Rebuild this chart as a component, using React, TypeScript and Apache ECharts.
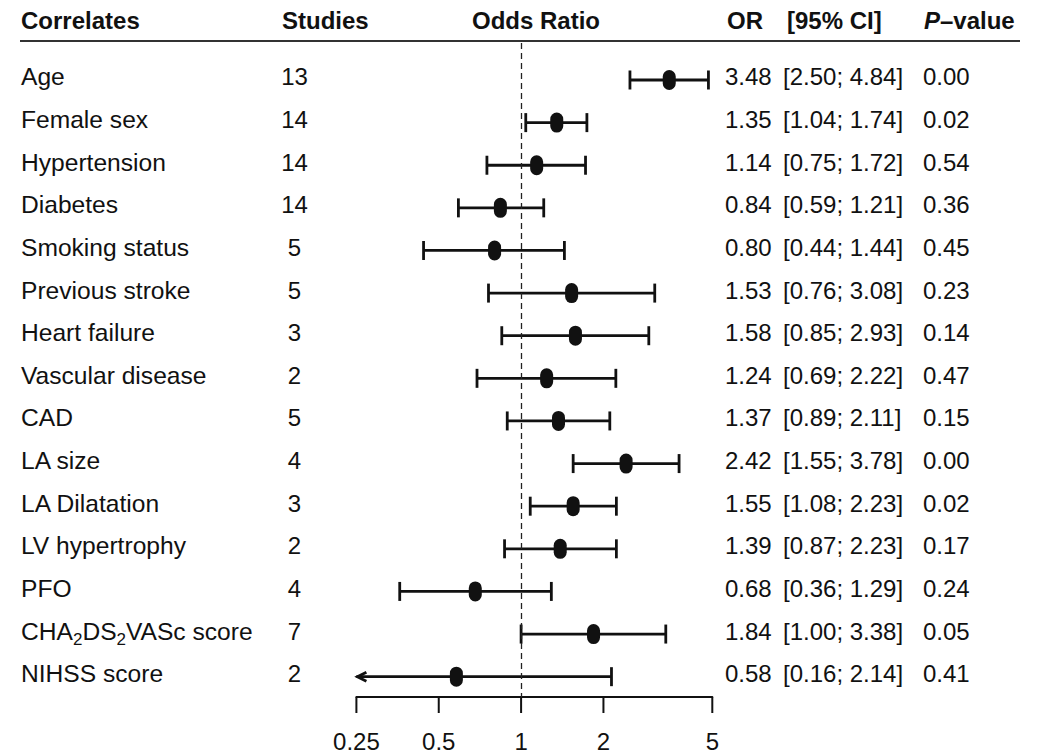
import React, { useEffect, useRef } from 'react';
import * as echarts from 'echarts';

// ---------- data ----------
const correlates = [
  'Age', 'Female sex', 'Hypertension', 'Diabetes', 'Smoking status', 'Previous stroke',
  'Heart failure', 'Vascular disease', 'CAD', 'LA size', 'LA Dilatation', 'LV hypertrophy',
  'PFO', 'CHA2DS2VASc score', 'NIHSS score',
];
const studies = [13, 14, 14, 14, 5, 5, 3, 2, 5, 4, 3, 2, 4, 7, 2];
const oddsRatio = [3.48, 1.35, 1.14, 0.84, 0.8, 1.53, 1.58, 1.24, 1.37, 2.42, 1.55, 1.39, 0.68, 1.84, 0.58];
const ciLower = [2.5, 1.04, 0.75, 0.59, 0.44, 0.76, 0.85, 0.69, 0.89, 1.55, 1.08, 0.87, 0.36, 1.0, 0.16];
const ciUpper = [4.84, 1.74, 1.72, 1.21, 1.44, 3.08, 2.93, 2.22, 2.11, 3.78, 2.23, 2.23, 1.29, 3.38, 2.14];
const pValues = [0.0, 0.02, 0.54, 0.36, 0.45, 0.23, 0.14, 0.47, 0.15, 0.0, 0.02, 0.17, 0.24, 0.05, 0.41];
const tickValues = [0.25, 0.5, 1, 2, 5];
const tickLabels = ['0.25', '0.5', '1', '2', '5'];
const referenceValue = 1;

// ---------- styling ----------
const INK = '#111111';
const FONT = "'Liberation Sans', Arial, Helvetica, sans-serif";
const FS = 24;
const X_MIN = tickValues[0];
const X_MAX = tickValues[tickValues.length - 1];
const Y_MIN = -0.868;
const Y_MAX = 14.477;

const subRich = {
  s: { fontSize: 17, fontFamily: FONT, fill: INK, padding: [17, 0, 0, 0] },
};
const withSubscripts = (name: string) => name.replace(/(CHA|DS)2/g, '$1{s|2}');

function textEl(x: number, y: number, text: string, align: string, extra: any = {}) {
  return {
    type: 'text',
    x,
    y,
    style: {
      text,
      fill: INK,
      fontSize: FS,
      fontFamily: FONT,
      align,
      verticalAlign: 'middle',
      ...extra,
    },
  };
}

export default function App() {
  const ref = useRef<HTMLDivElement>(null);

  useEffect(() => {
    if (!ref.current) return;
    const chart = echarts.init(ref.current, undefined, { renderer: 'svg' });

    const ciData = oddsRatio.map((v, i) => [v, i, ciLower[i], ciUpper[i]]);
    const textData = correlates.map((_, i) => [referenceValue, i]);
    const tickData = tickValues.map((v) => [v, Y_MAX]);

    const option: any = {
      animation: false,
      grid: { left: 356.4, right: 1045 - 712.3, top: 43, bottom: 56 },
      xAxis: {
        type: 'log',
        logBase: 2,
        min: X_MIN,
        max: X_MAX,
        axisLine: { show: true, onZero: false, lineStyle: { color: INK, width: 2 } },
        axisTick: { show: false },
        axisLabel: { show: false },
        splitLine: { show: false },
      },
      yAxis: {
        type: 'value',
        inverse: true,
        min: Y_MIN,
        max: Y_MAX,
        show: false,
        splitLine: { show: false },
      },
      graphic: [
        textEl(21, 20, 'Correlates', 'left', { fontWeight: 'bold' }),
        textEl(282, 20, 'Studies', 'left', { fontWeight: 'bold' }),
        textEl(536, 20, 'Odds Ratio', 'center', { fontWeight: 'bold' }),
        textEl(727, 20, 'OR', 'left', { fontWeight: 'bold' }),
        textEl(787, 20, '[95% CI]', 'left', { fontWeight: 'bold' }),
        textEl(924, 20, '{i|P}–value', 'left', {
          fontWeight: 'bold',
          rich: { i: { fontStyle: 'italic', fontWeight: 'bold', fontSize: FS, fontFamily: FONT, fill: INK } },
        }),
        {
          type: 'line',
          shape: { x1: 20, y1: 41, x2: 1020, y2: 41 },
          style: { stroke: '#333333', lineWidth: 2 },
        },
      ],
      series: [
        {
          type: 'custom',
          name: 'ci',
          clip: false,
          encode: { x: 0, y: 1 },
          data: ciData,
          renderItem: (params: any, api: any) => {
            const or = api.value(0);
            const row = api.value(1);
            const lo = api.value(2);
            const hi = api.value(3);
            const [cx, cy] = api.coord([or, row]);
            const xl = api.coord([Math.max(lo, X_MIN), row])[0];
            const xh = api.coord([Math.min(hi, X_MAX), row])[0];
            const lw = 2.8;
            const children: any[] = [
              { type: 'line', shape: { x1: xl, y1: cy, x2: xh, y2: cy }, style: { stroke: INK, lineWidth: lw } },
            ];
            if (lo >= X_MIN) {
              children.push({ type: 'line', shape: { x1: xl, y1: cy - 9.5, x2: xl, y2: cy + 9.5 }, style: { stroke: INK, lineWidth: lw } });
            } else {
              children.push({
                type: 'polyline',
                shape: { points: [[xl + 10, cy - 4.5], [xl + 1, cy], [xl + 10, cy + 4.5]] },
                style: { stroke: INK, fill: 'none', lineWidth: 2.8 },
              });
            }
            if (hi <= X_MAX) {
              children.push({ type: 'line', shape: { x1: xh, y1: cy - 9.5, x2: xh, y2: cy + 9.5 }, style: { stroke: INK, lineWidth: lw } });
            }
            children.push({
              type: 'rect',
              shape: { x: cx - 6.5, y: cy - 10, width: 13, height: 20, r: 6.5 },
              style: { fill: INK },
            });
            return { type: 'group', children };
          },
          markLine: {
            silent: true,
            symbol: 'none',
            label: { show: false },
            lineStyle: { color: '#222222', width: 1.3, type: [6, 4] },
            data: [{ xAxis: referenceValue }],
          },
          z: 3,
        },
        {
          type: 'custom',
          name: 'table',
          clip: false,
          encode: { x: 0, y: 1 },
          data: textData,
          renderItem: (params: any, api: any) => {
            const i = params.dataIndex;
            const y = api.coord([api.value(0), api.value(1)])[1] - 3;
            return {
              type: 'group',
              children: [
                textEl(21, y, withSubscripts(correlates[i]), 'left', { rich: subRich, fontSize: 24.6 }),
                textEl(294.5, y, String(studies[i]), 'center'),
                textEl(725, y, oddsRatio[i].toFixed(2), 'left'),
                textEl(783, y, `[${ciLower[i].toFixed(2)}; ${ciUpper[i].toFixed(2)}]`, 'left'),
                textEl(923, y, pValues[i].toFixed(2), 'left'),
              ],
            };
          },
        },
        {
          type: 'custom',
          name: 'ticks',
          clip: false,
          encode: { x: 0, y: 1 },
          data: tickData,
          renderItem: (params: any, api: any) => {
            const [x, y] = api.coord([api.value(0), api.value(1)]);
            return {
              type: 'group',
              children: [
                { type: 'line', shape: { x1: x, y1: y, x2: x, y2: y + 16 }, style: { stroke: INK, lineWidth: 2 } },
                textEl(x, y + 44, tickLabels[params.dataIndex], 'center'),
              ],
            };
          },
        },
      ],
    };

    chart.setOption(option);
    return () => chart.dispose();
  }, []);

  return (
    <div
      ref={ref}
      style={{ position: 'absolute', left: 0, top: 0, width: 1045, height: 753, background: '#ffffff' }}
    />
  );
}
